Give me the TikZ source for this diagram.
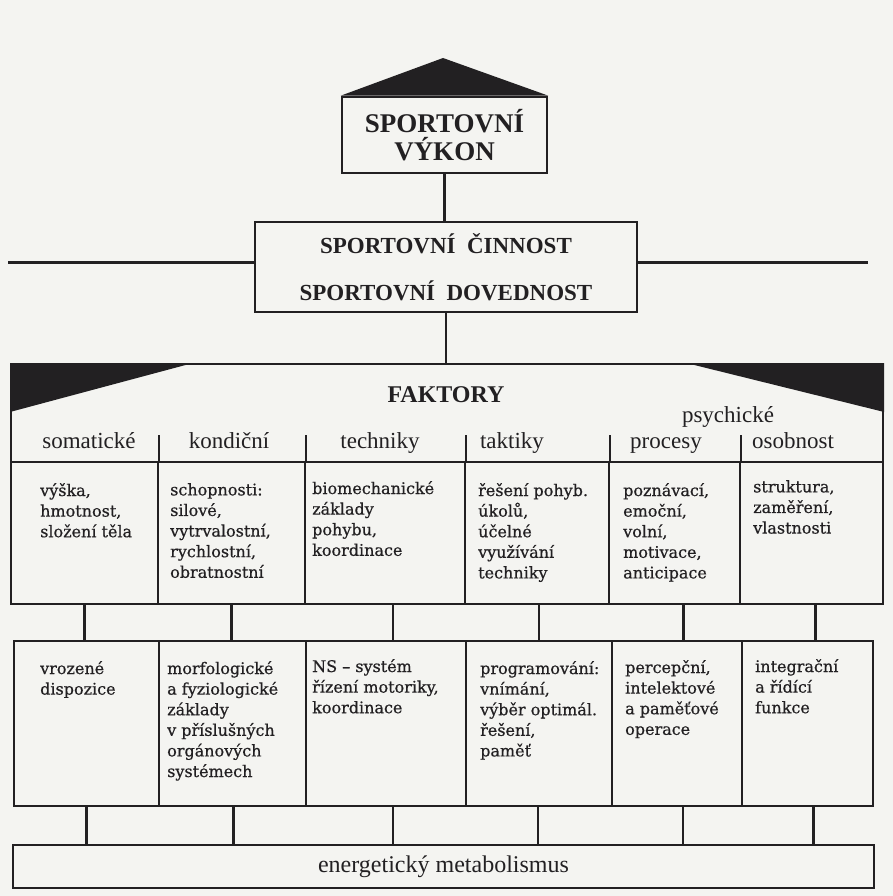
\documentclass[tikz,border=0pt]{standalone}
\usepackage{fontspec}
\setmainfont{Liberation Serif}
\newfontfamily\bodyfont[FakeBold=0.6]{DejaVu Serif}
\definecolor{paper}{RGB}{244,244,241}
\definecolor{ink}{RGB}{34,32,34}
\tikzset{
  box/.style={draw=ink, line width=2.6pt, inner sep=0pt},
  cell/.style={draw=ink, line width=2.2pt, inner sep=0pt, anchor=north west},
  title/.style={text=ink, font=\bfseries\fontsize{27}{28}\selectfont},
  head/.style={text=ink, font=\fontsize{23}{26}\selectfont, inner sep=0pt, anchor=base},
  note/.style={text=ink, font=\bodyfont\fontsize{16}{20.6}\selectfont, align=left, anchor=north west, inner sep=0pt},
  link/.style={draw=ink, line width=2.4pt}
}
\begin{document}
\begin{tikzpicture}[x=1pt,y=-1pt]
\fill[paper] (0,0) rectangle (893,896);
\useasboundingbox (0,0) rectangle (893,896);

% vykon with roof
\node[box, title, minimum width=205, minimum height=76, align=center] (vykon) at (444.5,135) {SPORTOVNÍ\\VÝKON};
\coordinate (roof) at (443,58);
\fill[ink] (vykon.north west) -- (roof) -- (vykon.north east) -- cycle;

% cinnost and the axis through it
\node[box, title, font=\bfseries\fontsize{23}{47}\selectfont, minimum width=382, minimum height=90, align=center] (cinnost) at (446,267) {SPORTOVNÍ~~ČINNOST\\SPORTOVNÍ~~DOVEDNOST};
\coordinate (axisL) at (8,262);
\coordinate (axisR) at (868,262);
\draw[link, line width=3pt] (axisL) -- (axisL -| cinnost.west);
\draw[link, line width=3pt] (cinnost.east |- axisR) -- (axisR);
\draw[link] (vykon.south) -- (vykon.south |- cinnost.north);

% faktory head band
\node[cell, minimum width=872, minimum height=98] (faktory) at (10,363) {};
\fill[ink] (faktory.north west) -- ++(183,0) -- ([yshift=-49pt]faktory.north west) -- cycle;
\fill[ink] (faktory.north east) -- ++(-198,0) -- ([yshift=-49pt]faktory.north east) -- cycle;
\draw[link] (cinnost.south) -- (cinnost.south |- faktory.north);
\node[text=ink, font=\bfseries\fontsize{24}{28}\selectfont, anchor=base] (faktlbl) at (446,402) {FAKTORY};
\node[head] (psych) at (728,422) {psychické};

% first row
\foreach \n/\xa/\xb in {1/10/157,2/157/304,3/304/464,4/464/608,5/608/739,6/739/882}
  \node[cell, minimum width=\xb-\xa, minimum height=142] (f\n) at (\xa,461) {};
\foreach \n in {1,...,5}
  \draw[link, line width=2.2pt] (f\n.north east) -- ++(0,-26);

\node[head] (h1) at (89,448) {somatické};
\node[head] (h2) at (229,448) {kondiční};
\node[head] (h3) at (380,448) {techniky};
\node[head] (h4) at (512,448) {taktiky};
\node[head] (h5) at (666,448) {procesy};
\node[head] (h6) at (793,448) {osobnost};

\node[note] (t1) at (40,483) {výška,\\hmotnost,\\složení těla};
\node[note] (t2) at (170,483) {schopnosti:\\silové,\\vytrvalostní,\\rychlostní,\\obratnostní};
\node[note] (t3) at (312,481) {biomechanické\\základy\\pohybu,\\koordinace};
\node[note] (t4) at (478,483) {řešení pohyb.\\úkolů,\\účelné\\využívání\\techniky};
\node[note] (t5) at (623,483) {poznávací,\\emoční,\\volní,\\motivace,\\anticipace};
\node[note] (t6) at (753,480) {struktura,\\zaměření,\\vlastnosti};

% second row
\foreach \n/\xa/\xb in {1/13/158,2/158/305,3/305/465,4/465/611,5/611/741,6/741/872}
  \node[cell, minimum width=\xb-\xa, minimum height=165] (g\n) at (\xa,640) {};

\node[note] (u1) at (40,661) {vrozené\\dispozice};
\node[note] (u2) at (167,661) {morfologické\\a fyziologické\\základy\\v příslušných\\orgánových\\systémech};
\node[note] (u3) at (312,659) {NS – systém\\řízení motoriky,\\koordinace};
\node[note] (u4) at (480,661) {programování:\\vnímání,\\výběr optimál.\\řešení,\\paměť};
\node[note] (u5) at (625,660) {percepční,\\intelektové\\a paměťové\\operace};
\node[note] (u6) at (755,659) {integrační\\a řídící\\funkce};

% base
\node[cell, anchor=center, minimum width=861, minimum height=43, text=ink, font=\fontsize{24}{28}\selectfont] (energ) at (443.5,866.5) {energetický metabolismus};

\foreach \n/\dx in {1/0,2/0,3/8,4/2,5/9,6/4}
  \draw[link] ([xshift=\dx pt]f\n.south) -- ([xshift=\dx pt]f\n.south |- g\n.north);
\foreach \n/\dx in {1/0,2/1,3/7,4/-1,5/6,6/6}
  \draw[link] ([xshift=\dx pt]g\n.south) -- ([xshift=\dx pt]g\n.south |- energ.north);
\end{tikzpicture}
\end{document}
